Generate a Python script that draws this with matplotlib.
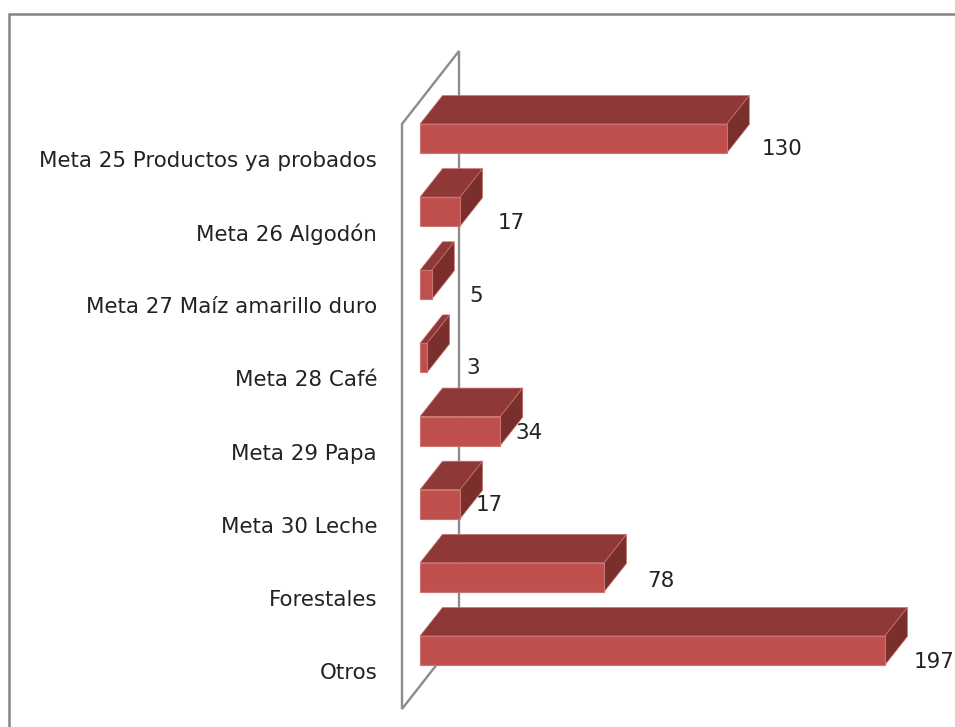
import matplotlib
matplotlib.use("Agg")
import matplotlib.pyplot as plt
from matplotlib.patches import Polygon

categories = [
    "Meta 25 Productos ya probados",
    "Meta 26 Algodón",
    "Meta 27 Maíz amarillo duro",
    "Meta 28 Café",
    "Meta 29 Papa",
    "Meta 30 Leche",
    "Forestales",
    "Otros",
]
values = [130, 17, 5, 3, 34, 17, 78, 197]

# where the value labels sit, relative to the bar end / bar centre (in px), they are not regular
label_dx = [35, 38, 38, 39, 15, 16, 43, 29]
label_dy = [10.5, 11.5, 11, 10, 1.5, 1, 4, 11.5]

W, H = 955, 727
PX_PER_VALUE = 2.36
X0 = 420
ROW = 73.14
Y0 = 138.5
BAR_H = 29
DEPTH_X = 22.5
DEPTH_Y = 28.5

FRONT = "#C0504D"
TOP = "#8E3937"
SIDE = "#7A2F2D"
EDGE = "#CC7472"
WALL = "#8C8C8C"
BORDER = "#858585"
TEXT = "#222222"

fig = plt.figure(figsize=(W / 100, H / 100), dpi=100)
ax = fig.add_axes([0, 0, 1, 1])
ax.set_xlim(-X0 / PX_PER_VALUE, (W - X0) / PX_PER_VALUE)
ax.set_ylim((H - Y0) / ROW, -Y0 / ROW)
ax.axis("off")

dx = DEPTH_X / PX_PER_VALUE
dy = DEPTH_Y / ROW
half = BAR_H / ROW / 2
px_x = 1 / PX_PER_VALUE
px_y = 1 / ROW


def wall_x(px):
    return (px - X0) * px_x


def wall_y(px):
    return (px - Y0) * px_y


# outer frame, only top and left are visible
ax.plot([wall_x(9), wall_x(9), wall_x(955)], [wall_y(727), wall_y(14), wall_y(14)],
        color=BORDER, lw=1.8, solid_joinstyle="miter", clip_on=False, zorder=1)

# back wall of the 3d chart, behind the bars
ax.plot([wall_x(459), wall_x(459), wall_x(402), wall_x(402), wall_x(459)],
        [wall_y(636), wall_y(51), wall_y(124), wall_y(709), wall_y(636)],
        color=WALL, lw=1.7, solid_joinstyle="miter", zorder=1)

for i, (name, v) in enumerate(zip(categories, values)):
    top = i - half
    bottom = i + half
    ax.add_patch(Polygon([(0, top), (dx, top - dy), (v + dx, top - dy), (v, top)],
                         facecolor=TOP, edgecolor=EDGE, lw=0.5, zorder=2))
    ax.add_patch(Polygon([(v, top), (v + dx, top - dy), (v + dx, bottom - dy), (v, bottom)],
                         facecolor=SIDE, edgecolor=EDGE, lw=0.5, zorder=2))
    ax.add_patch(Polygon([(0, top), (v, top), (v, bottom), (0, bottom)],
                         facecolor=FRONT, edgecolor=EDGE, lw=0.8, zorder=3))

    ax.text(wall_x(377), i + 22.5 * px_y, name, ha="right", va="center",
            fontsize=15.4, color=TEXT, family="DejaVu Sans", zorder=4)
    ax.text(v + label_dx[i] * px_x, i + label_dy[i] * px_y, str(v), ha="left", va="center",
            fontsize=15.4, color=TEXT, family="DejaVu Sans", zorder=4)

fig.savefig("out.png", dpi=100, facecolor="white")
